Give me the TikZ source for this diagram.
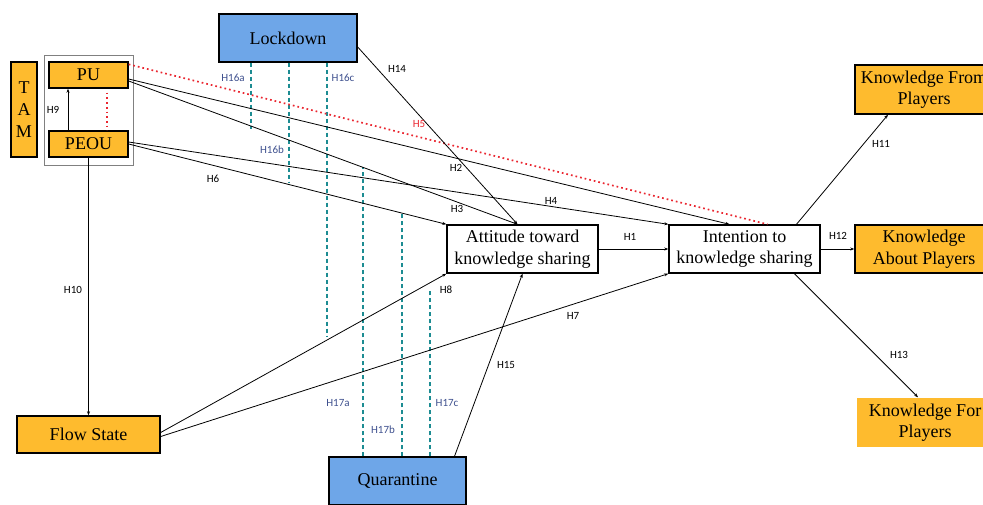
\documentclass[tikz,border=0pt]{standalone}
\usepackage{fontspec}
\setmainfont{Liberation Serif}
\newfontfamily\hypfont{Carlito}
\usetikzlibrary{arrows.meta}
\definecolor{tamorange}{RGB}{254,187,46}
\definecolor{covidblue}{RGB}{110,166,232}
\definecolor{modteal}{RGB}{28,140,146}
\definecolor{hypblue}{RGB}{62,80,142}
\definecolor{hypred}{RGB}{234,38,48}
\begin{document}
\begin{tikzpicture}[x=1pt,y=-1pt,
    box/.style={draw,line width=1.4pt,inner sep=0pt,align=center,
      font=\fontsize{18}{21.5}\selectfont},
    tambox/.style={box,fill=tamorange},
    covidbox/.style={box,fill=covidblue},
    link/.style={line width=0.8pt,-{Stealth[length=4pt,width=3pt]}},
    modline/.style={modteal,line width=1.7pt,dash pattern=on 4pt off 3pt},
    redline/.style={hypred,line width=1.7pt,dash pattern=on 1.7pt off 3pt},
    hyp/.style={font=\hypfont\fontsize{11}{12}\selectfont,inner sep=1pt}]
    \useasboundingbox (0,0) rectangle (983,504);
    \clip (0,0) rectangle (983,504);
    % Konstrukte
    \node[covidbox,minimum width=138pt,minimum height=48pt] (lockdown) at (288,38) {Lockdown};
    \node[covidbox,minimum width=137pt,minimum height=48pt] (quar) at (397.5,481) {Quarantine};
    \node[tambox,minimum width=26pt,minimum height=95pt,font=\fontsize{18}{22}\selectfont] (tam) at (24,109.5) {T\\A\\M};
    \node[draw=gray,line width=0.9pt,minimum width=89pt,minimum height=110pt] (tamgroup) at (88.5,110) {};
    \node[tambox,minimum width=79pt,minimum height=26pt] (pu) at (88.5,75) {PU};
    \node[tambox,minimum width=79pt,minimum height=26pt] (peou) at (88.5,144) {PEOU};
    \node[tambox,minimum width=143pt,minimum height=37pt] (flow) at (88.5,434.5) {Flow State};
    \node[box,minimum width=151pt,minimum height=48pt] (att) at (522.5,249) {Attitude toward\\knowledge sharing};
    \node[box,minimum width=151pt,minimum height=48pt] (intn) at (744.5,249) {Intention to\\knowledge sharing};
    \node[tambox,minimum width=138pt,minimum height=49pt] (kfrom) at (924,89.5) {Knowledge From\\Players};
    \node[tambox,minimum width=138pt,minimum height=48pt] (kabout) at (924,249) {Knowledge\\About Players};
    \node[tambox,draw=none,minimum width=136pt,minimum height=49pt] (kfor) at (925,422.5) {Knowledge For\\Players};
    % Moderatoren
    \coordinate (ma) at (251,129);
    \coordinate (mb) at (289,183);
    \coordinate (mc) at (327,336);
    \coordinate (qa) at (363,167);
    \coordinate (qb) at (402,213);
    \coordinate (qc) at (430,290);
    \draw[modline] (lockdown.south -| ma) -- (ma);
    \draw[modline] (lockdown.south -| mb) -- (mb);
    \draw[modline] (lockdown.south -| mc) -- (mc);
    \draw[modline] (quar.north -| qa) -- (qa);
    \draw[modline] (quar.north -| qb) -- (qb);
    \draw[modline] (quar.north -| qc) -- (qc);
    % Pfade
    \draw[redline] ([yshift=-3pt]pu.north east) -- ([xshift=23pt]intn.north);
    \draw[redline] ([xshift=18.5pt,yshift=-4pt]pu.south) -- ([xshift=18.5pt]peou.north);
    \draw[link] ([xshift=-20.5pt]peou.north) -- ([xshift=-20.5pt]pu.south);
    \draw[link] (peou.south) -- (flow.north);
    \draw[link] ([yshift=-4pt]pu.east) -- ([xshift=-15pt]intn.north);
    \draw[link] ([yshift=-6pt]pu.east) -- ([xshift=-5pt]att.north);
    \draw[link] ([yshift=-9pt]lockdown.east) -- ([xshift=-5pt]att.north);
    \draw[link] ([yshift=2pt]peou.east) -- (intn.north west);
    \draw[link] (peou.east) -- (att.north west);
    \draw[link] (att.east) -- (intn.west);
    \draw[link] (intn.east) -- (kabout.west);
    \draw[link] ([xshift=52pt]intn.north) -- ([xshift=-36pt]kfrom.south);
    \draw[link] ([xshift=50pt]intn.south) -- ([xshift=-7pt]kfor.north);
    \draw[link] ([yshift=2pt]flow.east) -- (att.south west);
    \draw[link] ([yshift=-2pt]flow.east) -- (intn.south west);
    \draw[link] ([xshift=57pt]quar.north) -- (att.south);
    % Beschriftung
    \node[hyp] (h1) at (630,237) {H1};
    \node[hyp] (h2) at (456,168) {H2};
    \node[hyp] (h3) at (457,209) {H3};
    \node[hyp] (h4) at (551,201) {H4};
    \node[hyp,text=hypred] (h5) at (419,124) {H5};
    \node[hyp] (h6) at (213,179) {H6};
    \node[hyp] (h7) at (573,316) {H7};
    \node[hyp] (h8) at (446,290) {H8};
    \node[hyp] (h9) at (53,110) {H9};
    \node[hyp] (h10) at (73,290) {H10};
    \node[hyp] (h11) at (881,144) {H11};
    \node[hyp] (h12) at (838,236) {H12};
    \node[hyp] (h13) at (899,355) {H13};
    \node[hyp] (h14) at (397,69) {H14};
    \node[hyp] (h15) at (506,365) {H15};
    \node[hyp,text=hypblue] (h16a) at (233,78) {H16a};
    \node[hyp,text=hypblue] (h16b) at (272,150) {H16b};
    \node[hyp,text=hypblue] (h16c) at (343,78) {H16c};
    \node[hyp,text=hypblue] (h17a) at (338,403) {H17a};
    \node[hyp,text=hypblue] (h17b) at (383,430) {H17b};
    \node[hyp,text=hypblue] (h17c) at (447,403) {H17c};
\end{tikzpicture}
\end{document}
